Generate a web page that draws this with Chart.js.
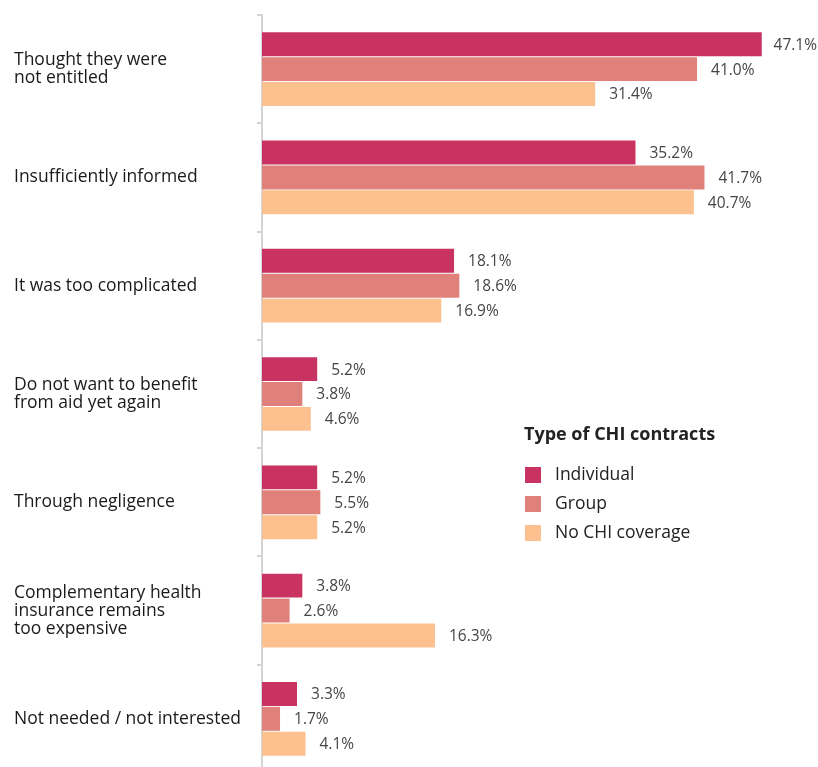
<!DOCTYPE html>
<html>
<head>
<meta charset="utf-8">
<script src="https://cdn.jsdelivr.net/npm/chart.js@4"></script>
<style>
  html, body { margin: 0; padding: 0; background: #fff; overflow: hidden; }
  #wrap { width: 818px; height: 794px; }
</style>
</head>
<body>
<div id="wrap"><canvas id="chartCHI"></canvas></div>
<script>
const kategori = [
    ['Thought they were', 'not entitled'],
    'Insufficiently informed',
    'It was too complicated',
    ['Do not want to benefit', 'from aid yet again'],
    'Through negligence',
    ['Complementary health', 'insurance remains', 'too expensive'],
    'Not needed / not interested'
];
const dataIndividual = [47.1, 35.2, 18.1, 5.2, 5.2, 3.8, 3.3];
const dataGroup = [41.0, 41.7, 18.6, 3.8, 5.5, 2.6, 1.7];
const dataNoCHI = [31.4, 40.7, 16.9, 4.6, 5.2, 16.3, 4.1];
const judulLegend = 'Type of CHI contracts';

// label nilai + legend manual
const labelPlugin = {
    id: 'labelPlugin',
    afterDatasetsDraw(chart) {
        const ctx = chart.ctx;
        ctx.save();
        ctx.font = '15.5px "Open Sans"';
        ctx.fillStyle = '#454545';
        ctx.textBaseline = 'middle';
        ctx.textAlign = 'left';
        chart.data.datasets.forEach((ds, i) => {
            chart.getDatasetMeta(i).data.forEach((bar, j) => {
                const txt = ds.data[j].toFixed(1) + '%';
                let x = bar.x + 14;
                const w = ctx.measureText(txt).width;
                if (x + w > chart.width - 1) x = chart.width - 1 - w;
                ctx.fillText(txt, x, bar.y + 1);
            });
        });

        // legend
        ctx.font = 'bold 18px "Open Sans"';
        ctx.fillStyle = '#222';
        ctx.fillText(judulLegend, 524, 435);
        ctx.font = '17.5px "Open Sans"';
        chart.data.datasets.forEach((ds, i) => {
            const y = 475 + i * 29;
            ctx.fillStyle = ds.backgroundColor;
            ctx.fillRect(525, y - 8, 16, 16);
            ctx.fillStyle = '#222';
            ctx.fillText(ds.label, 555, y);
        });
        ctx.restore();
    }
};

const ctxCHI = document.getElementById('chartCHI');
if (ctxCHI) {
    new Chart(ctxCHI.getContext('2d'), {
        type: 'bar',
        data: {
            labels: kategori,
            datasets: [
                {
                    label: 'Individual',
                    data: dataIndividual,
                    backgroundColor: '#c93362',
                    barPercentage: 0.96,
                    categoryPercentage: 0.69
                },
                {
                    label: 'Group',
                    data: dataGroup,
                    backgroundColor: '#df817a',
                    barPercentage: 0.96,
                    categoryPercentage: 0.69
                },
                {
                    label: 'No CHI coverage',
                    data: dataNoCHI,
                    backgroundColor: '#fdc08f',
                    barPercentage: 0.96,
                    categoryPercentage: 0.69
                }
            ]
        },
        options: {
            indexAxis: 'y',
            responsive: true,
            maintainAspectRatio: false,
            animation: false,
            layout: { padding: { top: 15, right: 0, bottom: 0, left: 14 } },
            plugins: {
                legend: { display: false },
                tooltip: { enabled: false }
            },
            scales: {
                x: {
                    display: false,
                    min: 0,
                    max: 52.4
                },
                y: {
                    afterFit(scale) { scale.width = 248; },
                    border: { color: '#d4d4d4', width: 2 },
                    grid: {
                        drawOnChartArea: false,
                        drawTicks: true,
                        tickLength: 5,
                        color: '#d4d4d4',
                        lineWidth: 2
                    },
                    ticks: {
                        crossAlign: 'far',
                        color: '#1a1a1a',
                        font: { family: 'Open Sans', size: 17.5, lineHeight: 1.03 }
                    }
                }
            }
        },
        plugins: [labelPlugin]
    });
}
</script>
</body>
</html>
